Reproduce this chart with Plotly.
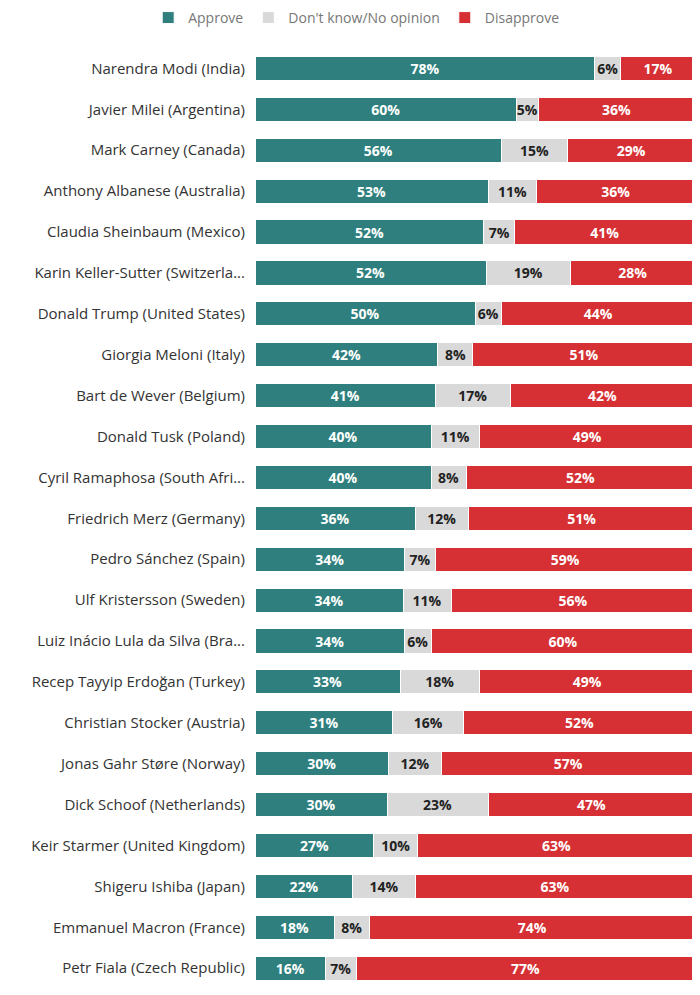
import plotly.graph_objects as go

leaders = [
    "Narendra Modi (India)",
    "Javier Milei (Argentina)",
    "Mark Carney (Canada)",
    "Anthony Albanese (Australia)",
    "Claudia Sheinbaum (Mexico)",
    "Karin Keller-Sutter (Switzerla...",
    "Donald Trump (United States)",
    "Giorgia Meloni (Italy)",
    "Bart de Wever (Belgium)",
    "Donald Tusk (Poland)",
    "Cyril Ramaphosa (South Afri...",
    "Friedrich Merz (Germany)",
    "Pedro Sánchez (Spain)",
    "Ulf Kristersson (Sweden)",
    "Luiz Inácio Lula da Silva (Bra...",
    "Recep Tayyip Erdoğan (Turkey)",
    "Christian Stocker (Austria)",
    "Jonas Gahr Støre (Norway)",
    "Dick Schoof (Netherlands)",
    "Keir Starmer (United Kingdom)",
    "Shigeru Ishiba (Japan)",
    "Emmanuel Macron (France)",
    "Petr Fiala (Czech Republic)",
]
approve = [78, 60, 56, 53, 52, 52, 50, 42, 41, 40, 40, 36, 34, 34, 34, 33, 31, 30, 30, 27, 22, 18, 16]
dont_know = [6, 5, 15, 11, 7, 19, 6, 8, 17, 11, 8, 12, 7, 11, 6, 18, 16, 12, 23, 10, 14, 8, 7]
disapprove = [17, 36, 29, 36, 41, 28, 44, 51, 42, 49, 52, 51, 59, 56, 60, 49, 52, 57, 47, 63, 63, 74, 77]

series = [
    ("Approve", approve, "#2e7f7e", "white"),
    ("Don't know/No opinion", dont_know, "#d9d9d9", "#222222"),
    ("Disapprove", disapprove, "#d63034", "white"),
]

fig = go.Figure()
for name, vals, color, txt in series:
    fig.add_trace(go.Bar(
        y=leaders, x=vals, name=name, orientation="h",
        marker=dict(color=color, line=dict(color="white", width=1)),
        text=[f"{v}%" for v in vals], textposition="inside",
        insidetextanchor="middle", constraintext="none", textangle=0,
        textfont=dict(color=txt, size=14, family="Open Sans", weight="bold"),
        hoverinfo="skip",
    ))

# page body adds an 8px offset, so the figure is a bit smaller and shifted
fig.update_layout(
    barmode="stack", barnorm="percent", bargap=0.41,
    width=692, height=979,
    margin=dict(l=247, r=5, t=40, b=0, autoexpand=False),
    paper_bgcolor="white", plot_bgcolor="white",
    font=dict(family="Open Sans", size=15, color="#333333"),
    legend=dict(orientation="h", x=0.23, xanchor="center",
                y=1.049, yanchor="top", font=dict(size=14, color="#777777"),
                itemwidth=30, traceorder="normal"),
    xaxis=dict(visible=False, range=[0, 100]),
    yaxis=dict(range=[22.46, -0.5], showgrid=False, ticks="", ticklabelstandoff=9),
)

fig.write_html("out.html")
